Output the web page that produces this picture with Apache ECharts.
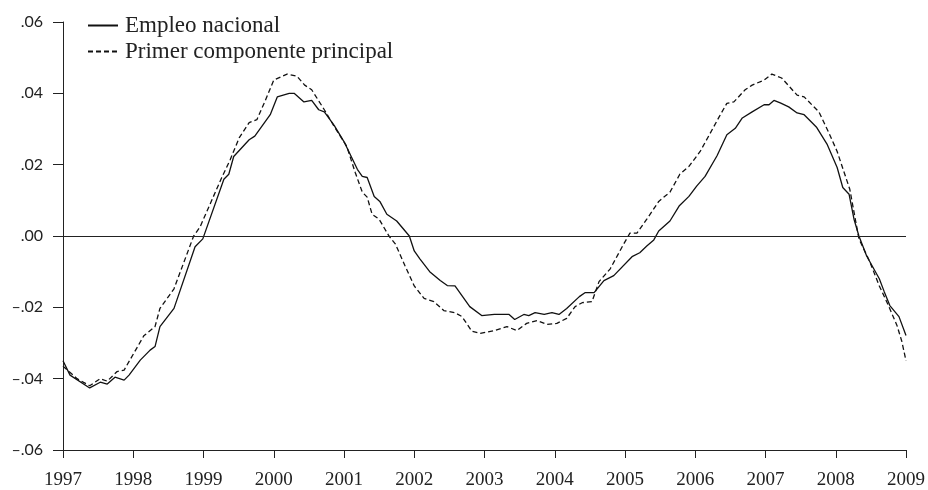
<!DOCTYPE html>
<html>
<head>
<meta charset="utf-8">
<script src="https://cdn.jsdelivr.net/npm/echarts@6/dist/echarts.min.js"></script>
<style>html,body{margin:0;padding:0;background:#fff}#c{width:928px;height:490px}</style>
</head>
<body>
<div id="c"></div>
<script>
var seriesNames = ['Empleo nacional', 'Primer componente principal'];
var yearTicks = [1997, 1998, 1999, 2000, 2001, 2002, 2003, 2004, 2005, 2006, 2007, 2008, 2009];

var empleoYears = [1997.00,1997.10,1997.38,1997.53,1997.63,1997.74,1997.87,1997.94,1998.10,1998.24,1998.31,1998.38,1998.58,1998.88,1998.99,1999.29,1999.36,1999.43,1999.65,1999.73,1999.95,2000.05,2000.22,2000.29,2000.43,2000.54,2000.64,2000.72,2000.86,2001.01,2001.19,2001.26,2001.33,2001.43,2001.51,2001.61,2001.75,2001.93,2002.00,2002.08,2002.22,2002.37,2002.47,2002.58,2002.79,2002.96,2003.14,2003.35,2003.43,2003.56,2003.63,2003.72,2003.85,2003.96,2004.06,2004.17,2004.35,2004.43,2004.56,2004.70,2004.84,2005.10,2005.21,2005.31,2005.41,2005.48,2005.64,2005.77,2005.91,2006.02,2006.14,2006.31,2006.45,2006.57,2006.67,2006.81,2006.98,2007.05,2007.12,2007.21,2007.33,2007.45,2007.55,2007.66,2007.73,2007.88,2008.02,2008.10,2008.19,2008.26,2008.33,2008.44,2008.62,2008.69,2008.77,2008.90,2009.00];
var empleoValues = [-0.0350,-0.0390,-0.0426,-0.0410,-0.0415,-0.0396,-0.0404,-0.0390,-0.0348,-0.0320,-0.0310,-0.0254,-0.0203,-0.0030,-0.0008,0.0159,0.0173,0.0223,0.0270,0.0280,0.0340,0.0390,0.0400,0.0400,0.0376,0.0380,0.0354,0.0348,0.0310,0.0261,0.0187,0.0167,0.0164,0.0111,0.0097,0.0061,0.0042,0.0000,-0.0042,-0.0064,-0.0100,-0.0125,-0.0139,-0.0140,-0.0198,-0.0223,-0.0220,-0.0220,-0.0234,-0.0220,-0.0223,-0.0215,-0.0220,-0.0215,-0.0220,-0.0203,-0.0170,-0.0159,-0.0159,-0.0125,-0.0111,-0.0058,-0.0047,-0.0028,-0.0011,0.0014,0.0042,0.0084,0.0111,0.0140,0.0167,0.0225,0.0284,0.0302,0.0331,0.0348,0.0368,0.0368,0.0380,0.0373,0.0362,0.0345,0.0340,0.0318,0.0304,0.0256,0.0192,0.0136,0.0117,0.0047,0.0000,-0.0056,-0.0120,-0.0156,-0.0195,-0.0226,-0.0279];

var pcYears = [1997.00,1997.20,1997.38,1997.53,1997.63,1997.77,1997.87,1998.15,1998.31,1998.38,1998.58,1998.86,1998.95,1999.26,1999.38,1999.51,1999.65,1999.76,1999.88,2000.00,2000.19,2000.33,2000.44,2000.54,2000.72,2000.87,2001.04,2001.16,2001.26,2001.33,2001.40,2001.50,2001.64,2001.73,2001.87,2002.00,2002.14,2002.28,2002.42,2002.58,2002.68,2002.82,2002.94,2003.14,2003.32,2003.46,2003.60,2003.75,2003.89,2004.03,2004.17,2004.29,2004.39,2004.53,2004.63,2004.79,2004.96,2005.07,2005.17,2005.31,2005.48,2005.64,2005.78,2005.91,2006.07,2006.21,2006.34,2006.45,2006.55,2006.71,2006.81,2006.98,2007.09,2007.23,2007.45,2007.55,2007.66,2007.76,2007.90,2008.02,2008.12,2008.20,2008.27,2008.33,2008.48,2008.62,2008.75,2008.87,2008.94,2009.00];
var pcValues = [-0.0365,-0.0400,-0.0420,-0.0400,-0.0407,-0.0380,-0.0376,-0.0280,-0.0254,-0.0203,-0.0148,0.0000,0.0025,0.0164,0.0214,0.0276,0.0318,0.0326,0.0380,0.0437,0.0454,0.0448,0.0423,0.0410,0.0354,0.0304,0.0251,0.0178,0.0123,0.0109,0.0061,0.0047,0.0000,-0.0022,-0.0084,-0.0140,-0.0175,-0.0184,-0.0209,-0.0215,-0.0226,-0.0267,-0.0273,-0.0265,-0.0254,-0.0265,-0.0245,-0.0237,-0.0248,-0.0245,-0.0231,-0.0198,-0.0187,-0.0184,-0.0128,-0.0092,-0.0030,0.0008,0.0008,0.0047,0.0097,0.0123,0.0173,0.0195,0.0237,0.0287,0.0334,0.0372,0.0376,0.0410,0.0423,0.0437,0.0454,0.0443,0.0395,0.0390,0.0368,0.0348,0.0290,0.0237,0.0178,0.0131,0.0056,-0.0008,-0.0070,-0.0140,-0.0195,-0.0250,-0.0295,-0.0350];

var yTicks = [-0.06, -0.04, -0.02, 0.00, 0.02, 0.04, 0.06];

function pairs(xs, ys) { return xs.map(function (x, i) { return [x, ys[i]]; }); }
function fmtY(v) {
  var s = Math.abs(v).toFixed(2).replace(/^0/, '');
  return v < -1e-9 ? '\u2013' + s : s;
}

var SERIF = '"Liberation Serif", "DejaVu Serif", serif';
var SANS = 'Lato, "Liberation Sans", sans-serif';
var chart = echarts.init(document.getElementById('c'), null, { renderer: 'canvas' });
chart.setOption({
  animation: false,
  backgroundColor: '#fff',
  grid: { left: 63, right: 19, top: 22, bottom: 37, containLabel: false },
  legend: {
    orient: 'vertical', left: 82, top: 9, itemGap: 3,
    itemWidth: 30, itemHeight: 14,
    itemStyle: { opacity: 0 },
    textStyle: { fontFamily: SERIF, fontSize: 23, lineHeight: 23, color: '#222', padding: [0, 0, 0, 2] },
    data: seriesNames
  },
  xAxis: {
    type: 'value', min: yearTicks[0], max: yearTicks[yearTicks.length - 1], interval: 1,
    axisLine: { show: true, onZero: false, lineStyle: { color: '#222', width: 1 } },
    axisTick: { show: true, length: 8, inside: false, lineStyle: { color: '#222' } },
    axisLabel: { fontFamily: SERIF, fontSize: 19, color: '#222', margin: 21, formatter: function (v) { return String(v); } },
    splitLine: { show: false }
  },
  yAxis: {
    type: 'value', min: yTicks[0], max: yTicks[yTicks.length - 1], interval: 0.02,
    axisLine: { show: true, lineStyle: { color: '#222', width: 1 } },
    axisTick: { show: true, length: 10, lineStyle: { color: '#222' } },
    axisLabel: { fontFamily: SANS, fontSize: 16, color: '#222', margin: 20, formatter: fmtY },
    splitLine: { show: false }
  },
  series: [
    {
      name: seriesNames[0], type: 'line', data: pairs(empleoYears, empleoValues),
      symbol: 'none', lineStyle: { color: '#111', width: 1.3, type: 'solid' }, itemStyle: { color: '#111' },
      markLine: {
        silent: true, symbol: 'none', label: { show: false },
        lineStyle: { color: '#222', width: 1.2, type: 'solid' },
        data: [{ yAxis: 0 }]
      }
    },
    {
      name: seriesNames[1], type: 'line', data: pairs(pcYears, pcValues),
      symbol: 'none', lineStyle: { color: '#111', width: 1.3, type: [5, 3] }, itemStyle: { color: '#111' }
    }
  ]
});
</script>
</body>
</html>
